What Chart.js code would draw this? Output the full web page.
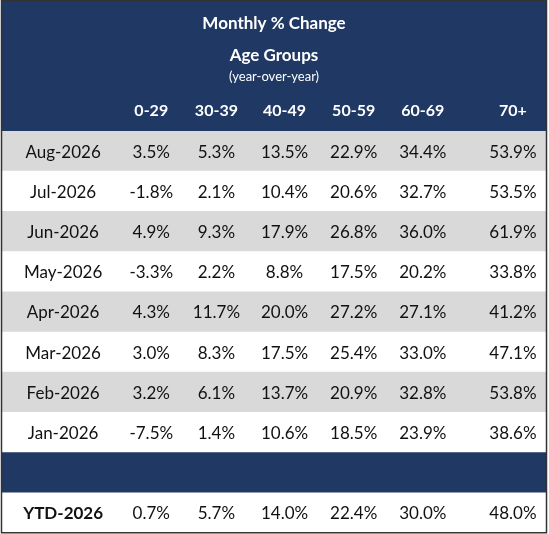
<!DOCTYPE html>
<html>
<head>
<meta charset="utf-8">
<script src="https://cdn.jsdelivr.net/npm/chart.js@4"></script>
<style>
  html, body { margin: 0; padding: 0; background: #fff; }
  #wrap { width: 549px; height: 534px; }
</style>
</head>
<body>
<div id="wrap"><canvas id="tbl"></canvas></div>
<script>
// Table data
const title = 'Monthly % Change';
const subtitle = 'Age Groups';
const note = '(year-over-year)';
const ageGroups = ['0-29', '30-39', '40-49', '50-59', '60-69', '70+'];
const rowLabels = ['Aug-2026', 'Jul-2026', 'Jun-2026', 'May-2026', 'Apr-2026', 'Mar-2026', 'Feb-2026', 'Jan-2026', '', 'YTD-2026'];
const aug = [3.5, 5.3, 13.5, 22.9, 34.4, 53.9];
const jul = [-1.8, 2.1, 10.4, 20.6, 32.7, 53.5];
const jun = [4.9, 9.3, 17.9, 26.8, 36.0, 61.9];
const may = [-3.3, 2.2, 8.8, 17.5, 20.2, 33.8];
const apr = [4.3, 11.7, 20.0, 27.2, 27.1, 41.2];
const mar = [3.0, 8.3, 17.5, 25.4, 33.0, 47.1];
const feb = [3.2, 6.1, 13.7, 20.9, 32.8, 53.8];
const jan = [-7.5, 1.4, 10.6, 18.5, 23.9, 38.6];
const ytd = [0.7, 5.7, 14.0, 22.4, 30.0, 48.0];
const rowValues = [aug, jul, jun, may, apr, mar, feb, jan, null, ytd];

const NAVY = '#203864';
const GREY = '#D9D9D9';
const FONT = 'Lato, "Open Sans", sans-serif';
const HEADER_H = 131;
// column centres on the x scale (0..545)
const colCenters = [62, 150, 215, 283, 352, 421, 511];

const rowColors = rowLabels.map((l, i) => {
  if (i === 8) return NAVY;
  if (i === 9) return '#ffffff';
  return i % 2 === 0 ? GREY : '#ffffff';
});

const tablePlugin = {
  id: 'tablePlugin',
  beforeDatasetsDraw(chart) {
    const ctx = chart.ctx;
    const x = chart.scales.x;
    ctx.save();
    ctx.fillStyle = NAVY;
    ctx.fillRect(x.left, 0, x.right - x.left, chart.chartArea.top);
    ctx.fillStyle = '#ffffff';
    ctx.textAlign = 'center';
    ctx.textBaseline = 'middle';
    const mid = (x.left + x.right) / 2;
    ctx.font = 'bold 17px ' + FONT;
    ctx.fillText(title, mid, 24);
    ctx.fillText(subtitle, mid, 56);
    ctx.font = '13px ' + FONT;
    ctx.fillText(note, mid, 77);
    ctx.font = 'bold 16px ' + FONT;
    ageGroups.forEach((g, i) => ctx.fillText(g, x.getPixelForValue(colCenters[i + 1]), 111));
    ctx.restore();
  },
  afterDatasetsDraw(chart) {
    const ctx = chart.ctx;
    const x = chart.scales.x, y = chart.scales.y;
    ctx.save();
    ctx.textAlign = 'center';
    ctx.textBaseline = 'middle';
    ctx.fillStyle = '#111111';
    rowLabels.forEach((label, r) => {
      const vals = rowValues[r];
      if (!vals) return;
      const py = y.getPixelForValue(r) + 1;
      ctx.font = (r === 9 ? 'bold ' : '') + '17px ' + FONT;
      ctx.fillText(label, x.getPixelForValue(colCenters[0]), py);
      ctx.font = '17px ' + FONT;
      vals.forEach((v, c) => ctx.fillText(v.toFixed(1) + '%', x.getPixelForValue(colCenters[c + 1]), py));
    });
    // outer border
    ctx.strokeStyle = '#333333';
    ctx.lineWidth = 1.5;
    ctx.strokeRect(x.left + 0.5, 0.75, x.right - x.left - 1, chart.chartArea.bottom - 1);
    ctx.restore();
  }
};

new Chart(document.getElementById('tbl'), {
  type: 'bar',
  data: {
    labels: rowLabels.map((l, i) => l || 'spacer' + i),
    datasets: [{
      data: rowLabels.map(() => [0, 545]),
      backgroundColor: rowColors,
      borderWidth: 0,
      barPercentage: 1,
      categoryPercentage: 1
    }]
  },
  options: {
    indexAxis: 'y',
    responsive: true,
    maintainAspectRatio: false,
    animation: false,
    layout: { padding: { top: HEADER_H, left: 1, right: 2, bottom: 1 } },
    plugins: { legend: { display: false }, tooltip: { enabled: false } },
    scales: {
      x: { type: 'linear', min: 0, max: 545, display: false },
      y: { type: 'category', display: false }
    }
  },
  plugins: [tablePlugin]
});
</script>
</body>
</html>
